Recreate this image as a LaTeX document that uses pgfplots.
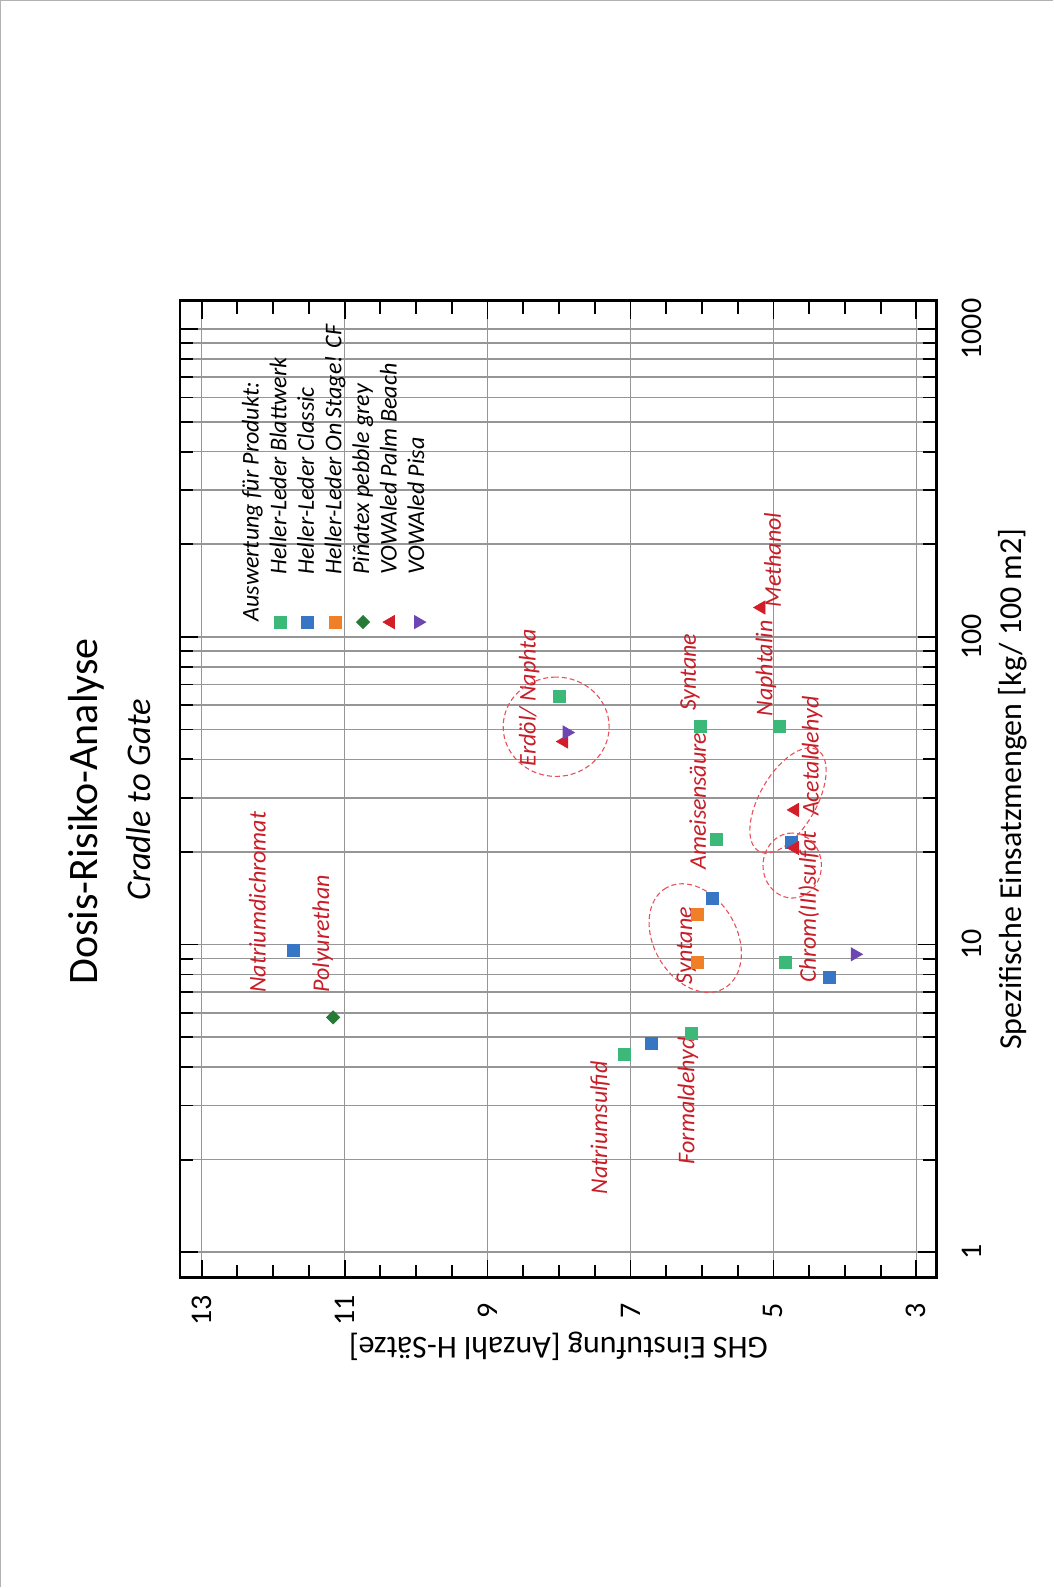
\documentclass[border=0pt]{standalone}
\usepackage{fontspec}
\setmainfont{Carlito}
\usepackage{pgfplots}
\pgfplotsset{compat=1.18}
\definecolor{cgreen}{RGB}{60,185,120}
\definecolor{cblue}{RGB}{54,118,196}
\definecolor{corange}{RGB}{240,128,40}
\definecolor{cdgreen}{RGB}{36,122,54}
\definecolor{cred}{RGB}{210,30,40}
\definecolor{cpurple}{RGB}{110,70,180}
\definecolor{ctext}{RGB}{200,30,40}
\definecolor{cell}{RGB}{232,80,90}
\definecolor{cgrid}{RGB}{150,150,150}
\pgfplotsset{legimg/.style={legend image code/.code={\draw[##1] plot coordinates {(0pt,0pt)};}}}
\tikzset{ann/.style={anchor=west, inner sep=0pt, text height=9pt, text depth=3pt, text=ctext, font=\itshape\fontsize{12}{14}\selectfont},
  ell/.style={draw=cell, line width=0.55pt, dash pattern=on 2.5pt off 1.5pt}}
\begin{document}
\begin{tikzpicture}[rotate=90, transform shape]
\path (-155pt,-58.1pt) rectangle (639pt,468.4pt);
\draw[gray!60, line width=0.6pt] (-155pt,468.1pt) -- (638.7pt,468.1pt) -- (638.7pt,-58.1pt);
\begin{axis}[
 at={(0pt,0pt)}, anchor=south west,
 scale only axis, width=488.6pt, height=378.25pt,
 xmode=log, xmin=0.828, xmax=1238, ymin=2.719, ymax=13.30,
 xtick={1,10,100,1000}, xticklabels={1,10,100,1000},
 minor xtick={2,3,4,5,6,7,8,9,20,30,40,50,60,70,80,90,200,300,400,500,600,700,800,900},
 ytick={3,5,7,9,11,13}, yticklabels={3,5,7,9,11,13},
 minor ytick={3.5,4,4.5,5.5,6,6.5,7.5,8,8.5,9.5,10,10.5,11.5,12,12.5},
 xmajorgrids, xminorgrids, ymajorgrids,
 major grid style={cgrid, line width=0.8pt},
 minor grid style={cgrid, line width=0.8pt},
 axis line style={line width=1.2pt},
 tick style={black, line width=0.9pt},
 major tick length=9pt, minor tick length=6.5pt,
 tick align=inside,
 ticklabel style={font=\fontsize{15}{18}\selectfont},
 xticklabel style={anchor=center, yshift=-17.5pt},
 yticklabel style={anchor=center, xshift=-16.5pt},
 xlabel={Spezifische Einsatzmengen [kg/ 100 m2]},
 ylabel={GHS Einstufung [Anzahl H-Sätze]},
 xlabel style={at={(axis description cs:0.5,-0.1005)}, anchor=center, font=\fontsize{16}{19}\selectfont},
 ylabel style={at={(axis description cs:-0.0706,0.5)}, anchor=center, font=\fontsize{16}{19}\selectfont},
 clip=false,
 legend style={draw=none, fill=none, at={(axis description cs:0.6639,0.9206)}, anchor=north west, inner sep=0pt, row sep=1.8pt, column sep=20.5pt, font=\itshape\fontsize{12}{14}\selectfont, nodes={inner sep=0pt, text height=9pt, text depth=3pt}},
 legend cell align=left,
]
\addlegendimage{empty legend}
\addlegendentry{\hspace{-23.35pt}Auswertung für Produkt:}
\addplot[only marks, mark=square*, mark size=3pt, color=cgreen, legimg] coordinates {(64,8.0) (51,6.02) (22,5.8) (51,4.91) (8.75,4.83) (4.41,7.08) (5.15,6.15)};
\addlegendentry{Heller-Leder Blattwerk}
\addplot[only marks, mark=square*, mark size=3pt, color=cblue, legimg] coordinates {(9.58,11.72) (4.76,6.71) (14.1,5.86) (21.5,4.75) (7.8,4.21)};
\addlegendentry{Heller-Leder Classic}
\addplot[only marks, mark=square*, mark size=3pt, color=corange, legimg] coordinates {(12.5,6.07) (8.75,6.07)};
\addlegendentry{Heller-Leder On Stage! CF}
\addplot[only marks, mark=square*, mark size=2.3pt, mark options={rotate=45}, color=cdgreen, legimg] coordinates {(5.8,11.16)};
\addlegendentry{Piñatex pebble grey}
\addplot[only marks, mark=triangle*, mark size=3.75pt, color=cred, legimg] coordinates {(45.7,7.93) (124.6,5.17) (27.4,4.7) (20.6,4.7)};
\addlegendentry{VOWAled Palm Beach}
\addplot[only marks, mark=triangle*, mark size=3.75pt, mark options={rotate=180}, color=cpurple, legimg] coordinates {(48.9,7.89) (9.3,3.86)};
\addlegendentry{VOWAled Pisa}
\node[ann] at (axis cs:6.96,12.19) {Natriumdichromat};
\node[ann] at (axis cs:6.96,11.30) {Polyurethan};
\node[ann] at (axis cs:1.54,7.41) {Natriumsulfid};
\node[ann] at (axis cs:1.93,6.19) {Formaldehyd};
\node[ann] at (axis cs:7.41,6.22) {Syntane};
\node[ann] at (axis cs:17.5,6.03) {Ameisensäure};
\node[ann] at (axis cs:57.3,6.17) {Syntane};
\node[ann] at (axis cs:37.9,8.41) {Erdöl/ Naphta};
\node[ann] at (axis cs:55.1,5.10) {Naphtalin};
\node[ann] at (axis cs:124.3,4.98) {Methanol};
\node[ann] at (axis cs:26.1,4.45) {Acetaldehyd};
\node[ann] at (axis cs:7.5,4.49) {Chrom(III)sulfat};
\draw[ell] (axis cs:51.05,8.04) circle [x radius=24.85pt, y radius=26.5pt];
\draw[ell] (axis cs:10.5,6.094) circle [x radius=29pt, y radius=20.75pt, rotate=30];
\draw[ell] (axis cs:18.07,4.737) circle [x radius=16.25pt, y radius=14.6pt];
\draw[ell] (axis cs:29.4,4.796) circle [x radius=29.25pt, y radius=14.15pt, rotate=-30];
\node[font=\fontsize{21}{25}\selectfont] at (axis description cs:0.477,1.1247) {Dosis-Risiko-Analyse};
\node[font=\itshape\fontsize{17.3}{21}\selectfont] at (axis description cs:0.489,1.0546) {Cradle to Gate};
\end{axis}
\end{tikzpicture}
\end{document}
